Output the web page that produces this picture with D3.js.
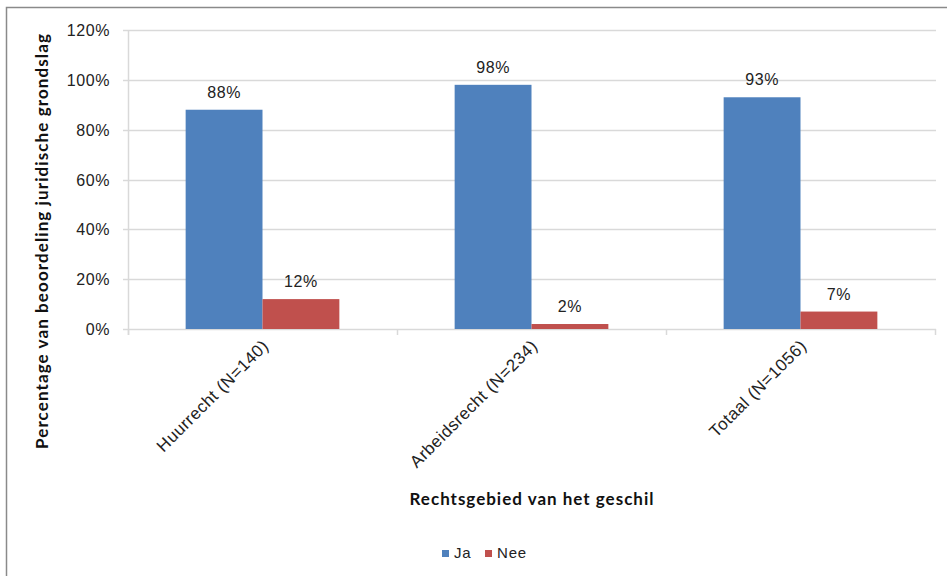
<!DOCTYPE html>
<html><head><meta charset="utf-8">
<script src="https://cdn.jsdelivr.net/npm/d3@7"></script>
<style>body{margin:0;background:#fff}svg{display:block}</style>
</head><body>
<svg id="c" width="947" height="576"></svg>
<script>
const categories = ["Huurrecht (N=140)", "Arbeidsrecht (N=234)", "Totaal (N=1056)"];
const seriesNames = ["Ja", "Nee"];
const ja = [88, 98, 93];
const nee = [12, 2, 7];
const yTicks = [0, 20, 40, 60, 80, 100, 120];
const colors = ["#4F81BD", "#C0504D"];

const sansFont = "'Liberation Sans', Arial, sans-serif";
const titleFont = "Lato, 'Open Sans', sans-serif";
const svg = d3.select("#c");
const m = {left: 128, right: 935, top: 30, bottom: 329};
const x = d3.scaleBand().domain(categories).range([m.left, m.right]).paddingInner(0).paddingOuter(0);
const x1 = d3.scaleBand().domain(seriesNames).range([0, x.bandwidth()]).paddingInner(0).paddingOuter(0.75);
const y = d3.scaleLinear().domain([0, 120]).range([m.bottom, m.top]);

// outer border
svg.append("path").attr("d", "M6.5,576 L6.5,7.5 L947,7.5").attr("fill","none").attr("stroke","#8a8a8a").attr("stroke-width",1.5);

// gridlines
svg.append("g").selectAll("line").data(yTicks).join("line")
  .attr("x1", m.left - 5).attr("x2", m.right + 1)
  .attr("y1", d => Math.round(y(d)) + 0.5).attr("y2", d => Math.round(y(d)) + 0.5)
  .attr("stroke", "#d9d9d9").attr("stroke-width", 1.5);

// left axis line
svg.append("line").attr("x1", m.left + 0.5).attr("x2", m.left + 0.5).attr("y1", m.top).attr("y2", m.bottom + 6)
  .attr("stroke", "#d9d9d9").attr("stroke-width", 1.5);

// y tick labels
svg.append("g").selectAll("text").data(yTicks).join("text")
  .attr("x", 110).attr("y", d => y(d) + 6)
  .attr("text-anchor", "end").attr("font-family", sansFont).attr("font-size", 16).attr("letter-spacing", 0.6).attr("fill", "#222")
  .text(d => d + "%");

// category ticks
const bounds = categories.map(c => x(c)).concat([m.right]);
svg.append("g").selectAll("line").data(bounds).join("line")
  .attr("x1", d => Math.round(d) + 0.5).attr("x2", d => Math.round(d) + 0.5)
  .attr("y1", m.bottom).attr("y2", m.bottom + 6)
  .attr("stroke", "#d9d9d9").attr("stroke-width", 1.5);

// bars
const rows = categories.map((c, i) => ({c, vals: [ja[i], nee[i]]}));
const g = svg.append("g").selectAll("g").data(rows).join("g").attr("transform", d => `translate(${x(d.c)},0)`);
g.selectAll("rect").data(d => d.vals.map((v, k) => ({v, k}))).join("rect")
  .attr("x", d => x1(seriesNames[d.k])).attr("width", x1.bandwidth())
  .attr("y", d => y(d.v)).attr("height", d => y(0) - y(d.v))
  .attr("fill", d => colors[d.k]);
g.selectAll("text").data(d => d.vals.map((v, k) => ({v, k}))).join("text")
  .attr("x", d => x1(seriesNames[d.k]) + x1.bandwidth() / 2)
  .attr("y", d => y(d.v) - 12)
  .attr("text-anchor", "middle").attr("font-family", sansFont).attr("font-size", 16).attr("letter-spacing", 0.6).attr("fill", "#222")
  .text(d => d.v + "%");

// x labels rotated
svg.append("g").selectAll("text").data(categories).join("text")
  .attr("transform", d => `translate(${x(d) + x.bandwidth()/2 + 7},${m.bottom + 18}) rotate(-45)`)
  .attr("text-anchor", "end").attr("font-family", sansFont).attr("font-size", 17).attr("letter-spacing", 0.5).attr("fill", "#222")
  .text(d => d);

// axis titles
svg.append("text").attr("transform", "translate(48,241) rotate(-90)")
  .attr("text-anchor", "middle").attr("font-family", titleFont).attr("font-weight", "bold").attr("font-size", 17).attr("letter-spacing", 1.1).attr("fill", "#111")
  .text("Percentage van beoordeling juridische grondslag");
svg.append("text").attr("x", 532).attr("y", 505)
  .attr("text-anchor", "middle").attr("font-family", titleFont).attr("font-weight", "bold").attr("font-size", 17).attr("letter-spacing", 1.0).attr("fill", "#111")
  .text("Rechtsgebied van het geschil");

// legend
const leg = svg.append("g").attr("transform", "translate(442,558)");
const items = [{n: seriesNames[0], c: colors[0], dx: 0}, {n: seriesNames[1], c: colors[1], dx: 43}];
leg.selectAll("rect").data(items).join("rect").attr("x", d => d.dx).attr("y", -8).attr("width", 7).attr("height", 7).attr("fill", d => d.c);
leg.selectAll("text").data(items).join("text").attr("x", d => d.dx + 12).attr("y", 0)
  .attr("font-family", sansFont).attr("font-size", 15).attr("letter-spacing", 0.8).attr("fill", "#222").text(d => d.n);
</script>
</body></html>
